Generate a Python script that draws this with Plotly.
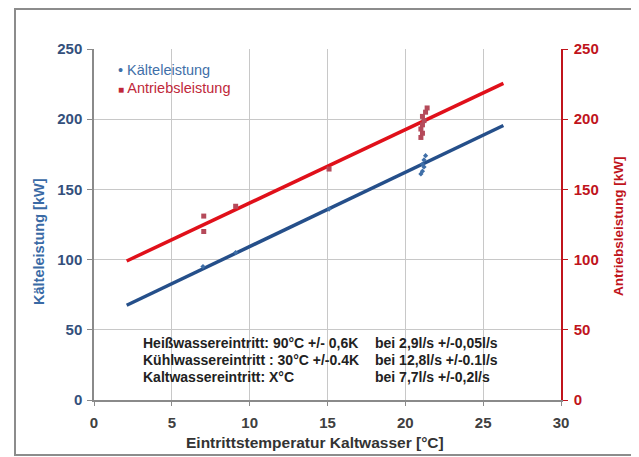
import plotly.graph_objects as go

# --- data ---
kaelte_x = [7.0, 9.1, 15.1, 21.0, 21.1, 21.2, 21.1, 21.2, 21.3]
kaelte_y = [95, 105, 136, 161, 163, 166, 168, 171, 174]
antrieb_x = [7.05, 7.05, 9.1, 15.1, 21.0, 21.1, 21.0, 21.1, 21.2, 21.1, 21.3, 21.4]
antrieb_y = [131, 120, 138, 164.5, 187, 190, 193, 196, 199, 202, 205, 208]
fit_x = [2.1, 26.3]
kaelte_fit = [67.5, 195.5]
antrieb_fit = [99, 225.5]

x_ticks = [0, 5, 10, 15, 20, 25, 30]
y_ticks = [0, 50, 100, 150, 200, 250]

note_left = ["Heißwassereintritt: 90°C +/- 0,6K",
             "Kühlwassereintritt : 30°C +/-0.4K",
             "Kaltwassereintritt: X°C"]
note_right = ["bei 2,9l/s +/-0,05l/s",
              "bei 12,8l/s +/-0.1l/s",
              "bei 7,7l/s +/-0,2l/s"]

BLUE = "#254F8A"
RED = "#E0101A"
RED_TXT = "#C0141C"
GRID = "#C8C8C8"
FONT = "Liberation Sans, Arial, sans-serif"

fig = go.Figure()
fig.add_trace(go.Scatter(x=fit_x, y=kaelte_fit, mode="lines",
                         line=dict(color=BLUE, width=3.5), showlegend=False))
fig.add_trace(go.Scatter(x=fit_x, y=antrieb_fit, mode="lines", yaxis="y2",
                         line=dict(color=RED, width=3.5), showlegend=False))
fig.add_trace(go.Scatter(x=kaelte_x, y=kaelte_y, mode="markers", name="Kälteleistung",
                         marker=dict(color="#3F6FA8", size=4, symbol="diamond"),
                         showlegend=False))
fig.add_trace(go.Scatter(x=antrieb_x, y=antrieb_y, mode="markers", yaxis="y2",
                         name="Antriebsleistung",
                         marker=dict(color="#B54A5A", size=5, symbol="square"),
                         showlegend=False))

# page body has an 8px margin -> compensate so plot sits at 94..561 x 49..400
fig.update_layout(
    width=631, height=449,
    margin=dict(l=86, r=78, t=41, b=57),
    paper_bgcolor="white", plot_bgcolor="white",
    font=dict(family=FONT),
    showlegend=False,
    xaxis=dict(range=[0, 30], tickvals=x_ticks, showgrid=True, gridcolor=GRID,
               gridwidth=1, zeroline=False, showline=True, linecolor="#8A8A8A",
               linewidth=1.5, ticks="outside", ticklen=4, tickcolor="#8A8A8A",
               ticklabelstandoff=4,
               tickfont=dict(size=15, color="#404040", weight="bold")),
    yaxis=dict(range=[0, 250], tickvals=y_ticks, showgrid=True, gridcolor=GRID,
               gridwidth=1, zeroline=False, showline=True, linecolor="#8A8A8A",
               linewidth=1.5, ticks="outside", ticklen=5, tickcolor="#8A8A8A",
               ticklabelstandoff=2,
               tickfont=dict(size=15, color="#34507C", weight="bold")),
    yaxis2=dict(range=[0, 250], tickvals=y_ticks, overlaying="y", side="right",
                showgrid=False, zeroline=False, showline=True, linecolor=RED_TXT,
                linewidth=1.5, ticks="outside", ticklen=5, tickcolor=RED_TXT,
                ticklabelstandoff=3,
                tickfont=dict(size=15, color=RED_TXT, weight="bold")),
)

PW, PH, X0, Y0 = 467.0, 351.0, 94.0, 400.0
def px(x):
    return (x - X0) / PW
def py(y):
    return (Y0 - y) / PH

def note(x, y, text, font, xanchor="center", angle=0):
    fig.add_annotation(x=px(x), y=py(y), xref="paper", yref="paper", showarrow=False,
                       xanchor=xanchor, yanchor="middle", text=text, textangle=angle,
                       font=font)

# axis titles
note(39, 242, "Kälteleistung [kW]",
     dict(size=14.5, color="#3A6AA5", weight="bold", family=FONT), angle=-90)
note(618, 226, "Antriebsleistung [kW]",
     dict(size=13.5, color=RED_TXT, weight="bold", family=FONT), angle=-90)
note(315, 442, "Eintrittstemperatur Kaltwasser [°C]",
     dict(size=15.5, color="#333333", weight="bold", family=FONT))

# legend
note(116, 70, "<span style='color:#3F6FA8'>•</span> Kälteleistung",
     dict(size=14.5, color="#3F6FA8", family=FONT), xanchor="left")
note(116, 88, "<span style='font-size:10px'>■</span> Antriebsleistung",
     dict(size=14.5, color="#C0283A", family=FONT), xanchor="left")

# note block
for i, (a, b) in enumerate(zip(note_left, note_right)):
    f = dict(size=14, color="#222222", weight="bold", family=FONT)
    note(141, 343 + 17 * i, a, f, xanchor="left")
    note(373, 343 + 17 * i, b, f, xanchor="left")

# outer chart frame
fig.add_shape(type="rect", xref="paper", yref="paper",
              x0=px(15), x1=px(637), y0=py(455), y1=py(9),
              line=dict(color="#8C8C8C", width=2), fillcolor="rgba(0,0,0,0)", layer="below")

fig.write_html("out.html")
